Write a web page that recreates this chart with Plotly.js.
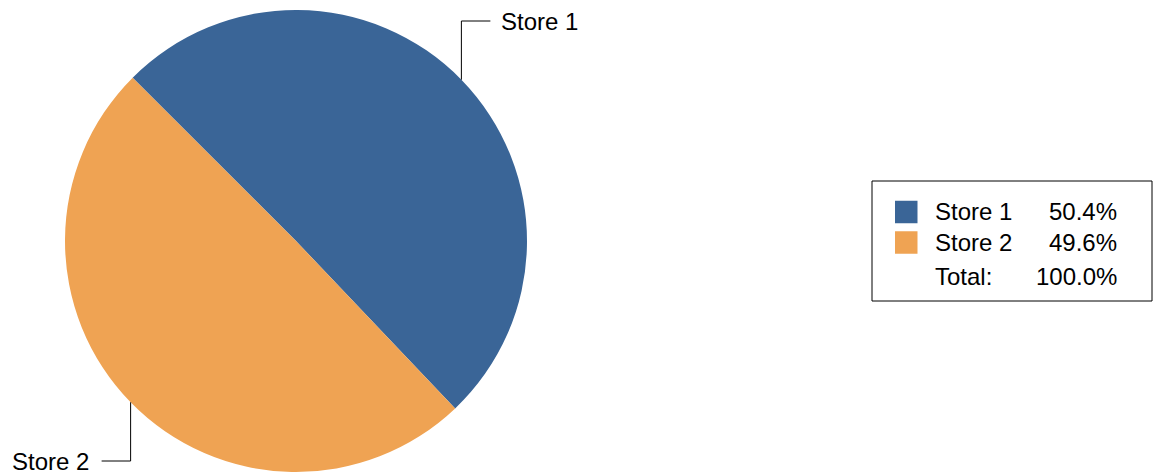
<!DOCTYPE html>
<html>
<head>
<meta charset="utf-8">
<script src="https://cdn.plot.ly/plotly-3.0.1.min.js"></script>
<style>html,body{margin:0;padding:0;background:#fff;}#chart{width:1159px;height:475px;}</style>
</head>
<body>
<div id="chart"></div>
<script>
// ---- data ----
var labels = ["Store 1", "Store 2"];
var values = [50.4, 49.6];
var percentLabels = ["50.4%", "49.6%"];
var totalLabel = "Total:";
var totalValue = "100.0%";
var colors = ["#3a6597", "#efa353"];

// ---- geometry / style ----
var FIG_W = 1159, FIG_H = 475;
var M = {l: 0, r: 0, t: 10, b: 3};
var PW = FIG_W - M.l - M.r, PH = FIG_H - M.t - M.b;
var domainX = [0, 592 / FIG_W];
var FONT = "Liberation Sans, Arial, sans-serif";
var FS = 24;

function xp(px) { return (px - M.l) / PW; }
function yp(py) { return 1 - (py - M.t) / PH; }

// pie geometry as plotly computes it
var r = Math.min(PW * (domainX[1] - domainX[0]), PH) / 2;
var cx = M.l + PW * (domainX[0] + domainX[1]) / 2;
var cy = M.t + PH / 2;
var rotation = -45;

var shapes = [];
var annotations = [];

// leader lines + outside labels computed from the data
var total = values.reduce(function (a, b) { return a + b; }, 0);
var ang = rotation;
for (var i = 0; i < values.length; i++) {
  var span = 360 * values[i] / total;
  var mid = (ang + span / 2) * Math.PI / 180;
  ang += span;
  var sx = cx + r * Math.sin(mid);
  var sy = cy - r * Math.cos(mid);
  var right = Math.sin(mid) >= 0;
  var upper = Math.cos(mid) >= 0;
  var ly = upper ? (cy - r + 11) : (cy + r - 11);
  var hx = right ? sx + 29 : sx - 29;
  var tx = right ? hx + 9 : hx - 11;
  shapes.push({type: "line", xref: "paper", yref: "paper",
    x0: xp(sx), y0: yp(sy), x1: xp(sx), y1: yp(ly),
    line: {color: "#000", width: 1}});
  shapes.push({type: "line", xref: "paper", yref: "paper",
    x0: xp(sx), y0: yp(ly), x1: xp(hx), y1: yp(ly),
    line: {color: "#000", width: 1}});
  annotations.push({xref: "paper", yref: "paper", x: xp(tx), y: yp(ly),
    xanchor: right ? "left" : "right", yanchor: "middle",
    text: labels[i], showarrow: false,
    font: {family: FONT, size: FS, color: "#000"}});
}

// custom legend box
var LB = {x0: 872, y0: 181, x1: 1152, y1: 301};
shapes.push({type: "rect", xref: "paper", yref: "paper",
  x0: xp(LB.x0), y0: yp(LB.y0), x1: xp(LB.x1), y1: yp(LB.y1),
  line: {color: "#000", width: 1}, fillcolor: "rgba(0,0,0,0)"});
var rowY = [212, 242.5, 276];
var swX0 = 895, swSize = 22.5, textX = 933, pctX = 1119;
for (var j = 0; j < labels.length; j++) {
  shapes.push({type: "rect", xref: "paper", yref: "paper",
    x0: xp(swX0), x1: xp(swX0 + swSize),
    y0: yp(rowY[j] - swSize / 2), y1: yp(rowY[j] + swSize / 2),
    line: {width: 0}, fillcolor: colors[j]});
  annotations.push({xref: "paper", yref: "paper", x: xp(textX), y: yp(rowY[j]),
    xanchor: "left", yanchor: "middle", text: labels[j], showarrow: false,
    font: {family: FONT, size: FS, color: "#000"}});
  annotations.push({xref: "paper", yref: "paper", x: xp(pctX), y: yp(rowY[j]),
    xanchor: "right", yanchor: "middle", text: percentLabels[j], showarrow: false,
    font: {family: FONT, size: FS, color: "#000"}});
}
annotations.push({xref: "paper", yref: "paper", x: xp(textX), y: yp(rowY[2]),
  xanchor: "left", yanchor: "middle", text: totalLabel, showarrow: false,
  font: {family: FONT, size: FS, color: "#000"}});
annotations.push({xref: "paper", yref: "paper", x: xp(pctX), y: yp(rowY[2]),
  xanchor: "right", yanchor: "middle", text: totalValue, showarrow: false,
  font: {family: FONT, size: FS, color: "#000"}});

var trace = {
  type: "pie",
  labels: labels,
  values: values,
  sort: false,
  direction: "clockwise",
  rotation: rotation,
  marker: {colors: colors, line: {width: 0}},
  textinfo: "none",
  hoverinfo: "label+percent",
  showlegend: false,
  domain: {x: domainX, y: [0, 1]}
};

var layout = {
  width: FIG_W, height: FIG_H,
  margin: M,
  paper_bgcolor: "#fff",
  plot_bgcolor: "#fff",
  showlegend: false,
  font: {family: FONT, size: FS, color: "#000"},
  shapes: shapes,
  annotations: annotations
};

Plotly.newPlot("chart", [trace], layout, {displayModeBar: false, staticPlot: true});
</script>
</body>
</html>
